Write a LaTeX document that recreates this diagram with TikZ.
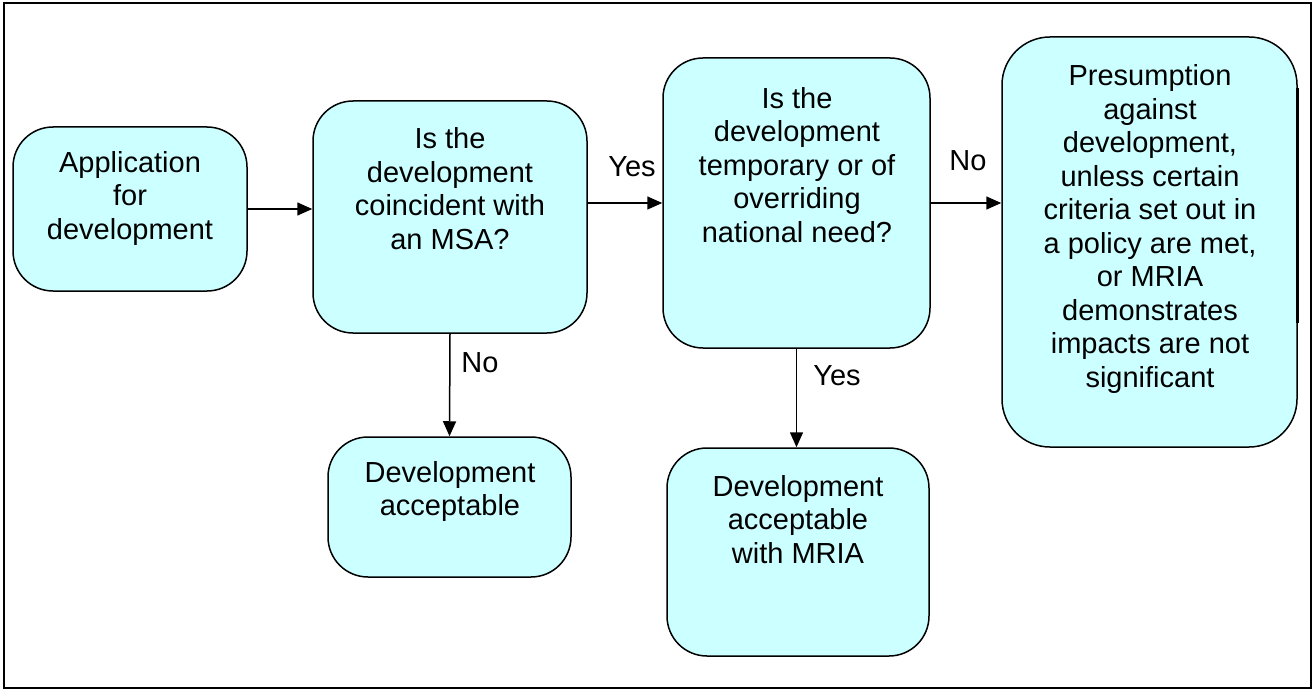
\documentclass[tikz,border=0pt]{standalone}
\usepackage{fontspec}
\setmainfont{Liberation Sans}
\usetikzlibrary{arrows.meta}
\definecolor{boxfill}{HTML}{CCFFFF}
\tikzset{
  box/.style={draw=black, line width=1.5pt, fill=boxfill, rounded corners=40pt, inner sep=0pt},
  txt/.style={align=center, anchor=base, inner sep=0pt, font=\fontsize{29}{33.5}\selectfont},
  lbl/.style={anchor=base, inner sep=0pt, font=\fontsize{29}{33.5}\selectfont},
  flow/.style={line width=1.5pt, -{Triangle[length=15pt,width=13pt]}}
}
\begin{document}
\begin{tikzpicture}[x=1pt,y=-1pt]
\useasboundingbox (0,0) rectangle (1315,690);
\draw[line width=1.5pt] (4,3) rectangle (1311,688);
% boxes
\node[box, minimum width=234pt, minimum height=164pt] (app) at (130,209) {};
\node[box, minimum width=274pt, minimum height=232pt] (msa) at (450,217) {};
\node[box, minimum width=267pt, minimum height=290pt] (tmp) at (796.5,203) {};
\node[box, minimum width=295pt, minimum height=410pt, rounded corners=48pt] (pres) at (1149.5,242) {};
\node[box, minimum width=243pt, minimum height=140pt] (acc) at (449.5,507) {};
\node[box, minimum width=262pt, minimum height=208pt] (mria) at (798,552) {};
\draw[line width=3pt] (1297.5,88) -- (1297.5,323);
% texts (anchor = baseline of last line)
\node[txt] (appT) at (130,239) {Application\\for\\development};
\node[txt] (msaT) at (450,249) {Is the\\development\\coincident with\\an MSA?};
\node[txt] (tmpT) at (797,242) {Is the\\development\\temporary or of\\overriding\\national need?};
\node[txt] (presT) at (1150,387) {Presumption\\against\\development,\\unless certain\\criteria set out in\\a policy are met,\\or MRIA\\demonstrates\\impacts are not\\significant};
\node[txt] (accT) at (450,515.5) {Development\\acceptable};
\node[txt] (mriaT) at (798,563) {Development\\acceptable\\with MRIA};
% connectors
\draw[flow] (app.east) -- (app.east -| msa.west);
\draw[flow] (msa.east |- tmp.east) -- (tmp.west);
\draw[flow] (tmp.east) -- (tmp.east -| pres.west);
\draw[flow] (msa.south) -- (acc.north);
\draw[flow] (tmp.south) -- (tmp.south |- mria.north);
% labels
\node[lbl] (yes1) at (632,177) {Yes};
\node[lbl] (no1) at (968,171) {No};
\node[lbl] (no2) at (480,372) {No};
\node[lbl] (yes2) at (837,385) {Yes};
\end{tikzpicture}
\end{document}
